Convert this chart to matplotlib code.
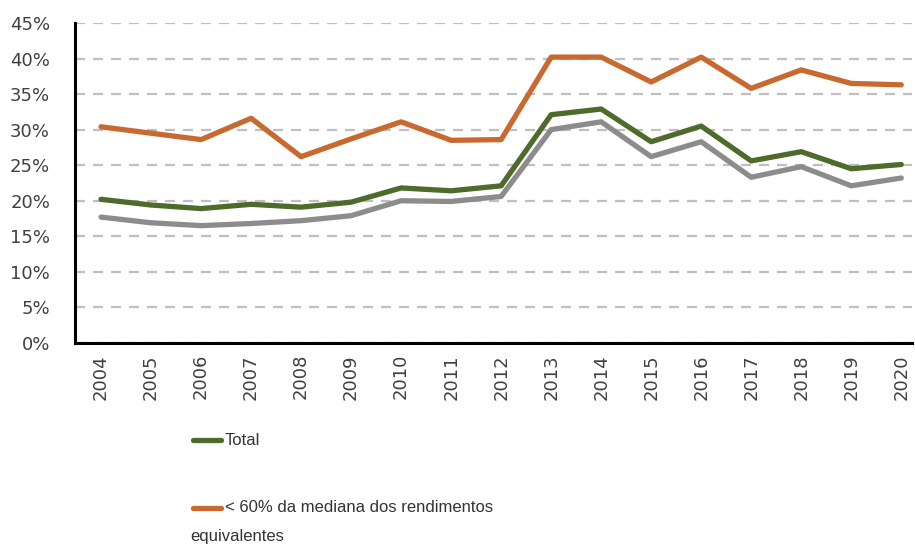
import matplotlib
matplotlib.use("Agg")
import matplotlib.pyplot as plt
from matplotlib.lines import Line2D
from matplotlib.ticker import PercentFormatter

years = [str(y) for y in range(2004, 2021)]

total = [20.2, 19.4, 18.9, 19.5, 19.1, 19.8, 21.8, 21.4, 22.1,
         32.1, 32.9, 28.3, 30.5, 25.6, 26.9, 24.5, 25.1]

below_60 = [30.4, 29.5, 28.6, 31.6, 26.2, 28.7, 31.1, 28.5, 28.6,
            40.2, 40.2, 36.7, 40.2, 35.8, 38.4, 36.5, 36.3]

grey_series = [17.7, 16.9, 16.5, 16.8, 17.2, 17.9, 20.0, 19.9, 20.6,
               30.0, 31.1, 26.2, 28.3, 23.3, 24.8, 22.1, 23.2]

green = "#4e6b2b"
orange = "#c8692f"
grey = "#8c8c8c"
text_col = "#404040"

fig = plt.figure(figsize=(9.15, 5.47), dpi=100)
ax = fig.add_axes([0.082, 0.373, 0.915, 0.585])

x = range(len(years))

ax.plot(x, grey_series, color=grey, linewidth=3.8, solid_capstyle="round")
ax.plot(x, total, color=green, linewidth=3.8, solid_capstyle="round")
ax.plot(x, below_60, color=orange, linewidth=3.8, solid_capstyle="round")

ax.set_ylim(0, 45)
ax.set_yticks(range(0, 46, 5))
ax.yaxis.set_major_formatter(PercentFormatter(decimals=0))
ax.set_xlim(-0.52, len(years) - 0.78)
ax.set_xticks(list(x))
ax.set_xticklabels(years, rotation=90)

ax.grid(axis="y", color="#bfbfbf", linestyle=(0, (4.5, 3.6)), linewidth=1.6)
ax.set_axisbelow(True)

for side in ["top", "right"]:
    ax.spines[side].set_visible(False)
for side in ["left", "bottom"]:
    ax.spines[side].set_color("black")
    ax.spines[side].set_linewidth(2.2)

ax.tick_params(axis="both", length=0, colors=text_col, labelsize=13)
ax.tick_params(axis="y", pad=18)
ax.tick_params(axis="x", pad=8)

# legend drawn by hand so the handle sits on the first line of a wrapped label
leg_font = {"family": ["Liberation Sans", "DejaVu Sans"], "size": 12,
            "color": "#333333"}

fig.add_artist(Line2D([0.211, 0.241], [0.1956, 0.1956], color=green,
                      linewidth=3.8, solid_capstyle="round"))
fig.text(0.246, 0.1956, "Total", va="center", ha="left", **leg_font)

fig.add_artist(Line2D([0.211, 0.241], [0.0713, 0.0713], color=orange,
                      linewidth=3.8, solid_capstyle="round"))
fig.text(0.246, 0.0713, "< 60% da mediana dos rendimentos",
         va="center", ha="left", **leg_font)
fig.text(0.208, 0.0183, "equivalentes", va="center", ha="left", **leg_font)

plt.savefig("out.png", dpi=100)
plt.close()
